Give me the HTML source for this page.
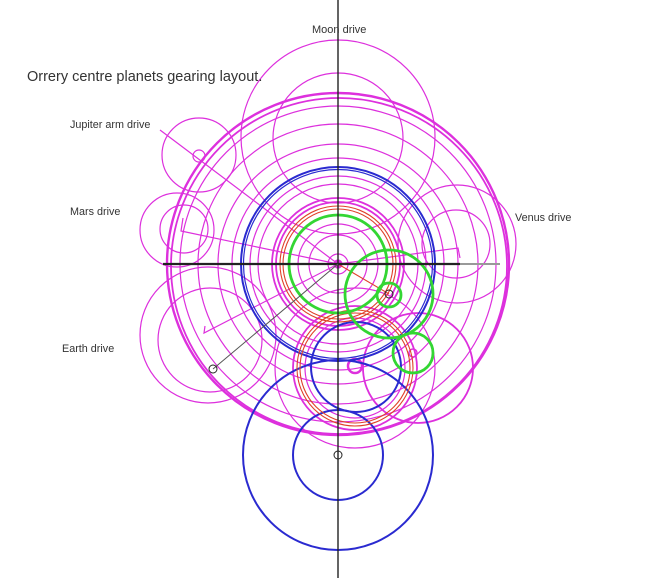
<!DOCTYPE html>
<html><head><style>
html,body{margin:0;padding:0;background:#fff;width:647px;height:585px;overflow:hidden}
svg{display:block}
text{font-family:"Liberation Sans",sans-serif;fill:#333}
</style></head><body>
<svg width="647" height="585" viewBox="0 0 647 585" xmlns="http://www.w3.org/2000/svg">
<rect width="647" height="585" fill="#fff"/>
<g fill="none" stroke="#dd30dd" stroke-width="1.2">
  <circle cx="338" cy="264" r="171" stroke-width="2.4"/>
  <circle cx="339" cy="266" r="168" stroke-width="1.8"/>
  <circle cx="338" cy="264" r="158"/>
  <circle cx="338" cy="264" r="140"/>
  <circle cx="338" cy="264" r="120"/>
  <circle cx="338" cy="264" r="106"/>
  <circle cx="338" cy="264" r="88"/>
  <circle cx="338" cy="264" r="80"/>
  <circle cx="338" cy="264" r="66" stroke-width="1.8"/>
  <circle cx="338" cy="264" r="62" stroke-width="1.8"/>
  <circle cx="338" cy="264" r="40"/>
  <circle cx="338" cy="264" r="29"/>
  <circle cx="338" cy="264" r="10"/>
  <circle cx="338" cy="264" r="4" fill="#dd30dd"/>
  <circle cx="338" cy="137" r="97"/>
  <circle cx="338" cy="138" r="65"/>
  <circle cx="199" cy="155" r="37"/>
  <circle cx="199" cy="156" r="6"/>
  <circle cx="177" cy="230" r="37"/>
  <circle cx="184" cy="229" r="24"/>
  <circle cx="208" cy="335" r="68"/>
  <circle cx="210" cy="340" r="52"/>
  <circle cx="457" cy="244" r="59"/>
  <circle cx="456" cy="244" r="34"/>
  <circle cx="355" cy="368" r="62" stroke-width="1.8"/>
  <circle cx="418" cy="368" r="55" stroke-width="1.8"/>
  <circle cx="355" cy="368" r="50"/>
  <circle cx="355" cy="368" r="80"/>
  <circle cx="355" cy="366" r="7" stroke-width="2.5"/>
  <circle cx="413" cy="353" r="4" stroke-width="1.5"/>
  <line x1="160" y1="130" x2="338" y2="264"/>
  <polyline points="183,218 181,231 338,264 458,248 460,258"/>
  <polyline points="205,326 204,333 338,264"/>
</g>
<g fill="none" stroke="#2a2ad0" stroke-width="2">
  <circle cx="338" cy="264" r="97"/>
  <circle cx="338" cy="264" r="94.5" stroke-width="1.2"/>
  <circle cx="356" cy="367" r="45"/>
  <circle cx="338" cy="455" r="95"/>
  <circle cx="338" cy="455" r="45"/>
</g>
<g fill="none" stroke="#e0402a" stroke-width="1.1">
  <circle cx="338" cy="264" r="58"/>
  <circle cx="338" cy="264" r="55"/>
  <circle cx="355" cy="368" r="58"/>
  <circle cx="355" cy="368" r="55"/>
  <line x1="338" y1="264" x2="389" y2="294"/>
</g>
<g fill="none" stroke="#33d633" stroke-width="2.8">
  <circle cx="338" cy="264" r="49"/>
  <circle cx="389" cy="294" r="44"/>
  <circle cx="389" cy="295" r="12"/>
  <circle cx="413" cy="353" r="20"/>
</g>
<g fill="none" stroke="#222" stroke-width="1">
  <line x1="338" y1="0" x2="338" y2="578" stroke-width="1.4"/>
  <line x1="163" y1="264" x2="460" y2="264" stroke-width="2.2"/>
  <line x1="460" y1="264" x2="500" y2="264" stroke="#999" stroke-width="2"/>
  <line x1="213" y1="369" x2="338" y2="264" stroke="#555"/>
  <circle cx="213" cy="369" r="4"/>
  <circle cx="338" cy="455" r="4"/>
  <circle cx="389" cy="294" r="4"/>
</g>
<text x="27" y="81" font-size="14.5">Orrery centre planets gearing layout.</text>
<text x="312" y="33" font-size="11">Moon drive</text>
<text x="70" y="128" font-size="10.8">Jupiter arm drive</text>
<text x="70" y="215" font-size="10.8">Mars  drive</text>
<text x="515" y="221" font-size="10.8">Venus drive</text>
<text x="62" y="352" font-size="10.8">Earth drive</text>
</svg>
</body></html>
